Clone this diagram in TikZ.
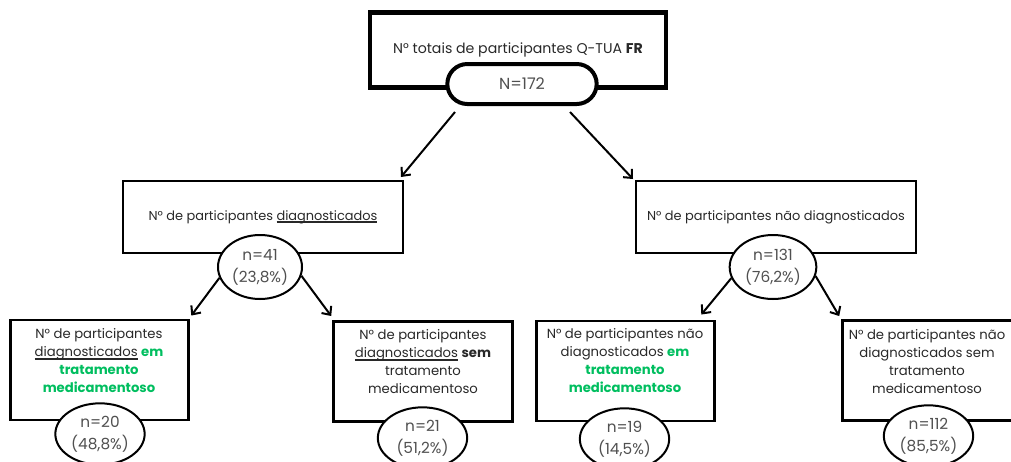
\documentclass[tikz,border=0pt]{standalone}
\usepackage{fontspec}
\setmainfont{Poppins}
\usepackage{xcolor}
\usetikzlibrary{arrows.meta,shapes.geometric,positioning}

\definecolor{textgray}{RGB}{40,40,40}
\definecolor{countgray}{RGB}{80,80,80}
\definecolor{medgreen}{RGB}{0,190,95}
\newcommand{\medtxt}[1]{\textcolor{medgreen}{\bfseries #1}}
\newcommand{\diagul}[1]{\setbox0\hbox{#1}\rlap{\rule[-1.9pt]{\wd0}{1.1pt}}\box0\relax}

\begin{document}
\begin{tikzpicture}[
    x=0.75pt, y=-0.75pt,
    every node/.style={align=center, text=textgray, font=\fontsize{9.7}{13.5}\selectfont},
    topbox/.style={draw, line width=3.6pt, minimum width=222pt, minimum height=56pt, font=\fontsize{10.6}{13.5}\selectfont},
    totalpill/.style={draw, fill=white, line width=3pt, rounded corners=15pt, minimum width=112pt, minimum height=30pt, text=countgray, font=\fontsize{12}{14}\selectfont},
    midbox/.style={draw, line width=1.5pt, minimum width=210pt, minimum height=54pt},
    leafbox/.style={draw, line width=2.2pt, minimum width=134pt, minimum height=75pt},
    leaftext/.style={font=\fontsize{9.9}{13.5}\selectfont},
    countoval/.style={draw, fill=white, ellipse, line width=1.5pt, inner sep=0pt, minimum width=63pt, minimum height=48pt, text=countgray, font=\fontsize{11.5}{16.5}\selectfont},
    leafoval/.style={countoval, minimum width=67pt, minimum height=46pt},
    arr/.style={-{Straight Barb[length=5pt,width=9pt]}, line width=1.5pt},
]
\useasboundingbox (0,0) rectangle (1011,461);

% Total
\node[topbox] (totbox) at (518,50) {N° totais de participantes Q-TUA \textbf{FR}};
\node[totalpill] (total) at (522,84) {N=172};

% Second level
\node[midbox] (diag) at (263,217) {N° de participantes \diagul{diagnosticados}};
\node[midbox] (nodiag) at (776,217) {N° de participantes não diagnosticados};
\node[countoval] (n41) at (260,267) {n=41\\(23,8\%)};
\node[countoval, minimum width=65pt] (n131) at (773,267) {n=131\\(76,2\%)};

% Third level
\node[leafbox] (diagem) at (99.5,370) {};
\node[leafbox] (diagsem) at (423,371.5) {};
\node[leafbox] (nodiagem) at (625.5,371) {};
\node[leafbox] (nodiagsem) at (932,370.5) {};

\node[leaftext] (diagemtxt) at (99,361) {N° de participantes\\\diagul{diagnosticados} \medtxt{em}\\\medtxt{tratamento}\\\medtxt{medicamentoso}};
\node[leaftext] (diagsemtxt) at (423,362) {N° de participantes\\\diagul{diagnosticados} \textbf{sem}\\tratamento\\medicamentoso};
\node[leaftext] (nodiagemtxt) at (625,361) {N° de participantes não\\diagnosticados \medtxt{em}\\\medtxt{tratamento}\\\medtxt{medicamentoso}};
\node[leaftext] (nodiagsemtxt) at (927,361.5) {N° de participantes não\\diagnosticados sem\\tratamento\\medicamentoso};

\node[leafoval] (n20) at (100,434) {n=20\\(48,8\%)};
\node[leafoval] (n21) at (422.5,438) {n=21\\(51,2\%)};
\node[leafoval] (n19) at (624.5,439) {n=19\\(14,5\%)};
\node[leafoval] (n112) at (928.5,436) {n=112\\(85,5\%)};

% Arrows
\draw[arr] ([shift={(-67,6)}]total.south) -- ([shift={(-3,-3)}]diag.north east);
\draw[arr] ([shift={(48,6)}]total.south) -- ([shift={(-2,-1)}]nodiag.north west);
\draw[arr] (n41.195) -- ([shift={(1,-3)}]diagem.north east);
\draw[arr] (n41.-12) -- ([shift={(-1,-4)}]diagsem.north west);
\draw[arr] (n131.195) -- ([shift={(-15,-5)}]nodiagem.north east);
\draw[arr] (n131.-12) -- ([shift={(-2,-3)}]nodiagsem.north west);

\end{tikzpicture}
\end{document}
